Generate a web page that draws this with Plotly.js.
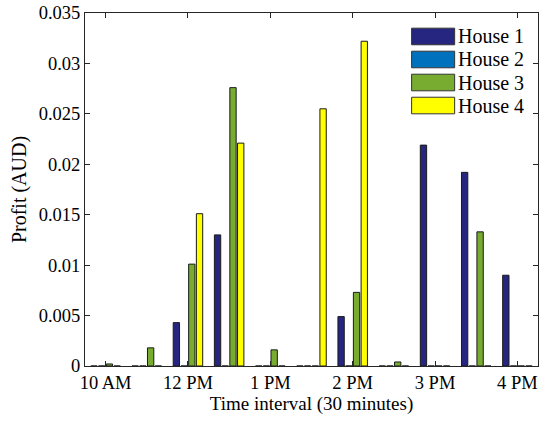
<!DOCTYPE html>
<html>
<head>
<meta charset="utf-8">
<script src="https://cdn.plot.ly/plotly-3.0.1.min.js"></script>
<style>
  html, body { margin: 0; padding: 0; background: #fff; }
  #chart { width: 545px; height: 424px; }
</style>
</head>
<body>
<div id="chart"></div>
<script>
// Half-hour slots from 10 AM to 4 PM
const slots = [1, 2, 3, 4, 5, 6, 7, 8, 9, 10, 11];
const tickSlots = [1, 3, 5, 7, 9, 11];
const tickLabels = ["10 AM", "12 PM", "1 PM", "2 PM", "3 PM", "4 PM"];

// Profit per house (AUD)
const house1 = [0, 0, 0.0043, 0.0130, 0, 0, 0.0049, 0, 0.0219, 0.0192, 0.0090];
const house2 = [0, 0, 0, 0, 0, 0, 0, 0, 0, 0, 0];
const house3 = [0.0002, 0.0018, 0.0101, 0.0276, 0.0016, 0, 0.0073, 0.0004, 0, 0.0133, 0];
const house4 = [0, 0, 0.0151, 0.0221, 0, 0.0255, 0.0322, 0, 0, 0, 0];

const houseNames = ["House 1", "House 2", "House 3", "House 4"];
const houseColors = ["#262680", "#0072BD", "#77AC30", "#FFFF00"];
const houseSeries = [house1, house2, house3, house4];

const yTickVals = [0, 0.005, 0.01, 0.015, 0.02, 0.025, 0.03, 0.035];
const yTickText = ["0", "0.005", "0.01", "0.015", "0.02", "0.025", "0.03", "0.035"];

const serif = "Liberation Serif";
const ink = "#262626";

const traces = houseSeries.map((vals, i) => ({
  type: "bar",
  x: slots,
  y: vals,
  name: houseNames[i],
  marker: { color: houseColors[i], line: { color: "#1a1a1a", width: 1 } },
  showlegend: false,
  hoverinfo: "skip"
}));

// Legend drawn as wide swatches with labels, top-right inside the axes
const shapes = [];
const annotations = [];
const legX0 = 0.721, legX1 = 0.816, rowTop = 0.957, rowH = 0.047, rowStep = 0.0652;
houseNames.forEach((name, i) => {
  const top = rowTop - i * rowStep;
  shapes.push({
    type: "rect", xref: "paper", yref: "paper",
    x0: legX0, x1: legX1, y0: top - rowH, y1: top,
    fillcolor: houseColors[i], line: { color: "#333", width: 1 }
  });
  annotations.push({
    xref: "paper", yref: "paper", x: legX1 + 0.004, y: top - rowH / 2,
    xanchor: "left", yanchor: "middle", showarrow: false,
    text: name, font: { family: serif, size: 20, color: "#000" }
  });
});

const layout = {
  width: 545,
  height: 424,
  margin: { l: 85, r: 7, t: 13, b: 58 },
  paper_bgcolor: "#fff",
  plot_bgcolor: "#fff",
  barmode: "group",
  bargap: 0.25,
  bargroupgap: 0.18,
  showlegend: false,
  font: { family: serif, color: ink },
  xaxis: {
    range: [0.5, 11.5],
    tickmode: "array",
    tickvals: tickSlots,
    ticktext: tickLabels,
    ticks: "inside",
    ticklen: 5,
    tickcolor: ink,
    showline: true,
    linecolor: ink,
    linewidth: 1,
    mirror: "ticks",
    showgrid: false,
    zeroline: false,
    tickfont: { family: serif, size: 18.5, color: "#000" },
    title: { text: "Time interval (30 minutes)", font: { family: serif, size: 19, color: "#000" }, standoff: 4 }
  },
  yaxis: {
    range: [0, 0.035],
    tickmode: "array",
    tickvals: yTickVals,
    ticktext: yTickText,
    ticks: "inside",
    ticklen: 5,
    tickcolor: ink,
    showline: true,
    linecolor: ink,
    linewidth: 1,
    mirror: "ticks",
    showgrid: false,
    zeroline: false,
    tickfont: { family: serif, size: 18.5, color: "#000" },
    title: { text: "Profit (AUD)", font: { family: serif, size: 20, color: "#000" }, standoff: 6 }
  },
  shapes: shapes,
  annotations: annotations
};

Plotly.newPlot("chart", traces, layout, { displayModeBar: false, staticPlot: true });
</script>
</body>
</html>
